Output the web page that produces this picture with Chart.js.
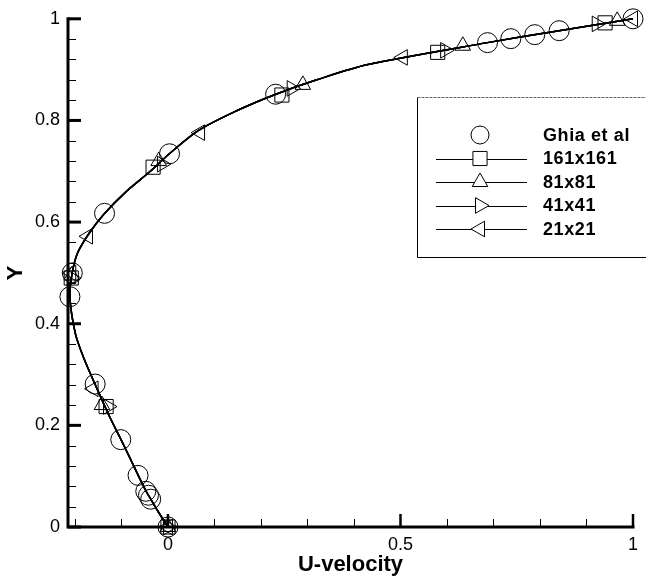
<!DOCTYPE html>
<html>
<head>
<meta charset="utf-8">
<title>U-velocity along the vertical centreline</title>
<script src="https://cdn.jsdelivr.net/npm/chart.js@4/dist/chart.umd.min.js"></script>
<style>
  html, body { margin: 0; padding: 0; background: #ffffff; }
  #wrap { width: 646px; height: 580px; }
</style>
</head>
<body>
<div id="wrap"><canvas id="cv" width="646" height="580"></canvas></div>
<script>
// Reference data of Ghia et al. (Re = 100), vertical centreline
const ghiaY = [1.0000, 0.9766, 0.9688, 0.9609, 0.9531, 0.8516, 0.7344, 0.6172, 0.5000, 0.4531, 0.2813, 0.1719, 0.1016, 0.0703, 0.0625, 0.0547, 0.0000];
const ghiaU = [1.00000, 0.84123, 0.78871, 0.73722, 0.68717, 0.23151, 0.00332, -0.13641, -0.20581, -0.21090, -0.15662, -0.10150, -0.06434, -0.04775, -0.04192, -0.03717, 0.00000];

// Computed centreline profile (the four grids lie on top of each other)
const profileY = [0, 0.03, 0.0547, 0.0703, 0.1016, 0.14, 0.1719, 0.22, 0.2813, 0.33, 0.38, 0.4531, 0.5, 0.54, 0.58, 0.6172, 0.66, 0.70, 0.7344, 0.78, 0.82, 0.8516, 0.88, 0.91, 0.9531, 0.9766, 1.0];
const profileU = [0, -0.021, -0.037, -0.047, -0.064, -0.084, -0.101, -0.127, -0.157, -0.180, -0.199, -0.211, -0.206, -0.194, -0.168, -0.136, -0.090, -0.038, 0.003, 0.065, 0.150, 0.232, 0.320, 0.430, 0.687, 0.841, 1.0];

// Symbol positions for each grid
const grid161U = [0, -0.133, -0.208, -0.032, 0.245, 0.580, 0.940];
const grid161Y = [0, 0.237, 0.490, 0.708, 0.850, 0.934, 0.992];
const grid81U  = [0, -0.142, -0.207, -0.020, 0.290, 0.634, 0.966];
const grid81Y  = [0, 0.240, 0.495, 0.720, 0.870, 0.947, 0.996];
const grid41U  = [0, -0.129, -0.206, -0.013, 0.266, 0.596, 0.922];
const grid41Y  = [0, 0.237, 0.490, 0.714, 0.863, 0.938, 0.990];
const grid21U  = [0, -0.160, -0.208, -0.172, 0.069, 0.505, 1.000];
const grid21Y  = [0, 0.272, 0.500, 0.572, 0.776, 0.924, 1.000];

const seriesLabels = ['Ghia et al', '161x161', '81x81', '41x41', '21x21'];

// Axis ticks
const xMajorTicks = [0, 0.5, 1];
const xMinorTicks = [-0.2, -0.1, 0.1, 0.2, 0.3, 0.4, 0.6, 0.7, 0.8, 0.9];
const yMajorTicks = [0, 0.2, 0.4, 0.6, 0.8, 1];
const yMinorTicks = [0.04, 0.08, 0.12, 0.16, 0.24, 0.28, 0.32, 0.36, 0.44, 0.48, 0.52, 0.56, 0.64, 0.68, 0.72, 0.76, 0.84, 0.88, 0.92, 0.96];

const pairs = (us, ys) => us.map((u, i) => ({ x: u, y: ys[i] }));

const gridSeries = [
  { label: seriesLabels[1], u: grid161U, y: grid161Y, style: 'rect',     rot: 0,   r: 10 },
  { label: seriesLabels[2], u: grid81U,  y: grid81Y,  style: 'triangle', rot: 0,   r: 9 },
  { label: seriesLabels[3], u: grid41U,  y: grid41Y,  style: 'triangle', rot: 90,  r: 9 },
  { label: seriesLabels[4], u: grid21U,  y: grid21Y,  style: 'triangle', rot: 270, r: 9 }
];

const datasets = [];
gridSeries.forEach(s => {
  datasets.push({
    label: s.label + ' line',
    data: pairs(profileU, profileY),
    showLine: true,
    borderColor: '#000',
    borderWidth: 1.5,
    pointRadius: 0,
    tension: 0.3,
    clip: false
  });
});
gridSeries.forEach(s => {
  datasets.push({
    label: s.label,
    data: pairs(s.u, s.y),
    showLine: false,
    pointStyle: s.style,
    rotation: s.rot,
    pointRadius: s.r,
    pointBorderWidth: 1,
    pointBorderColor: '#000',
    pointBackgroundColor: 'rgba(0,0,0,0)',
    clip: false
  });
});
datasets.push({
  label: seriesLabels[0],
  data: pairs(ghiaU, ghiaY),
  showLine: false,
  pointStyle: 'circle',
  pointRadius: 10,
  pointBorderWidth: 1,
  pointBorderColor: '#000',
  pointBackgroundColor: 'rgba(0,0,0,0)',
  clip: false
});

// Axis lines with inward tick marks
const axesPlugin = {
  id: 'axes',
  afterDraw(chart) {
    const ctx = chart.ctx;
    const xs = chart.scales.x, ys = chart.scales.y;
    const x0 = xs.left, y0 = ys.bottom;
    ctx.save();
    ctx.strokeStyle = '#000';
    ctx.lineCap = 'butt';
    // minor ticks
    ctx.lineWidth = 1;
    yMinorTicks.forEach(v => {
      const p = Math.round(ys.getPixelForValue(v)) + 0.5;
      ctx.beginPath(); ctx.moveTo(x0, p); ctx.lineTo(x0 + 8, p); ctx.stroke();
    });
    xMinorTicks.forEach(v => {
      const p = Math.round(xs.getPixelForValue(v)) + 0.5;
      ctx.beginPath(); ctx.moveTo(p, y0); ctx.lineTo(p, y0 - 8); ctx.stroke();
    });
    // major ticks
    ctx.lineWidth = 3;
    yMajorTicks.forEach(v => {
      const p = ys.getPixelForValue(v);
      ctx.beginPath(); ctx.moveTo(x0, p); ctx.lineTo(x0 + 13, p); ctx.stroke();
    });
    ctx.lineWidth = 2.5;
    xMajorTicks.forEach(v => {
      const p = xs.getPixelForValue(v);
      ctx.beginPath(); ctx.moveTo(p, y0); ctx.lineTo(p, y0 - 13); ctx.stroke();
    });
    // axis lines
    ctx.lineWidth = 3;
    ctx.lineCap = 'square';
    ctx.beginPath();
    ctx.moveTo(x0, ys.top);
    ctx.lineTo(x0, y0);
    ctx.lineTo(xs.right, y0);
    ctx.stroke();
    ctx.restore();
  }
};

// Boxed legend with line + symbol samples
const legendPlugin = {
  id: 'boxLegend',
  afterDraw(chart) {
    const ctx = chart.ctx;
    const boxL = 417.5, boxT = 97.5, boxB = 257.5, boxR = 646;
    ctx.save();
    ctx.fillStyle = '#fff';
    ctx.fillRect(boxL, boxT, boxR - boxL, boxB - boxT);
    ctx.strokeStyle = '#000';
    ctx.lineWidth = 1;
    ctx.beginPath();
    ctx.moveTo(boxL, boxT); ctx.lineTo(boxL, boxB); ctx.lineTo(boxR, boxB);
    ctx.stroke();
    ctx.strokeStyle = '#666';
    ctx.setLineDash([3, 1]);
    ctx.beginPath(); ctx.moveTo(boxL, boxT); ctx.lineTo(boxR, boxT); ctx.stroke();
    ctx.setLineDash([]);

    const rows = [135, 158.5, 182, 205.5, 229];
    const symX = 480, lineL = 436, lineR = 527, textX = 543;
    const styles = [
      { style: 'circle', rot: 0, r: 9, line: false },
      { style: 'rect', rot: 0, r: 10, line: true },
      { style: 'triangle', rot: 0, r: 9, line: true },
      { style: 'triangle', rot: 90, r: 9, line: true },
      { style: 'triangle', rot: 270, r: 9, line: true }
    ];
    styles.forEach((s, i) => {
      const y = rows[i];
      if (s.line) {
        ctx.strokeStyle = '#000';
        ctx.lineWidth = 1.2;
        ctx.beginPath(); ctx.moveTo(lineL, Math.round(y) + 0.5); ctx.lineTo(lineR, Math.round(y) + 0.5); ctx.stroke();
      }
      ctx.strokeStyle = '#000';
      ctx.fillStyle = '#fff';
      ctx.lineWidth = 1;
      Chart.helpers.drawPoint(ctx, { pointStyle: s.style, rotation: s.rot, radius: s.r, borderWidth: 1 }, symX, y);
      ctx.fillStyle = '#000';
      ctx.font = 'bold 18px "Liberation Sans", Arial, sans-serif';
      ctx.letterSpacing = '0.6px';
      ctx.textAlign = 'left';
      ctx.textBaseline = 'middle';
      ctx.fillText(seriesLabels[i], textX, y + 1);
    });
    ctx.restore();
  }
};

new Chart(document.getElementById('cv'), {
  type: 'scatter',
  data: { datasets },
  plugins: [axesPlugin, legendPlugin],
  options: {
    responsive: false,
    animation: false,
    devicePixelRatio: 1,
    layout: { padding: { top: 13, right: 13, left: 0, bottom: 0 } },
    plugins: { legend: { display: false }, tooltip: { enabled: false } },
    scales: {
      x: {
        type: 'linear',
        min: -0.215,
        max: 1,
        afterFit: s => { s.height = 53; },
        afterBuildTicks: s => { s.ticks = xMajorTicks.map(v => ({ value: v })); },
        grid: { display: false, drawTicks: false },
        border: { display: false },
        ticks: {
          padding: 7,
          color: '#000',
          font: { family: '"Liberation Sans", Arial, sans-serif', size: 18 },
          callback: v => String(v)
        },
        title: {
          display: true,
          text: 'U-velocity',
          color: '#000',
          font: { family: '"Liberation Sans", Arial, sans-serif', size: 22, weight: 'bold' },
          padding: { top: 0, bottom: 2 }
        }
      },
      y: {
        type: 'linear',
        min: 0,
        max: 1,
        afterFit: s => { s.width = 68; },
        afterBuildTicks: s => { s.ticks = yMajorTicks.map(v => ({ value: v })); },
        grid: { display: false, drawTicks: false },
        border: { display: false },
        ticks: {
          padding: 8,
          color: '#000',
          font: { family: '"Liberation Sans", Arial, sans-serif', size: 18 },
          callback: v => String(v)
        },
        title: {
          display: true,
          text: 'Y',
          color: '#000',
          font: { family: '"Liberation Sans", Arial, sans-serif', size: 22, weight: 'bold' },
          padding: { top: 3, bottom: 0 }
        }
      }
    }
  }
});
</script>
</body>
</html>
